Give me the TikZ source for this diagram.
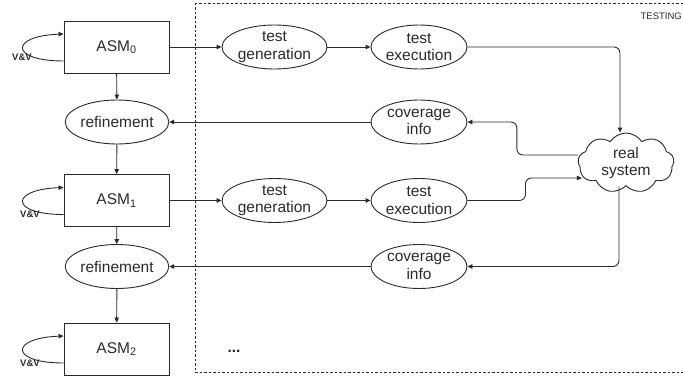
\documentclass[tikz,border=0pt]{standalone}
\usepackage{fontspec}
\setmainfont{Liberation Sans}
\usetikzlibrary{shapes.geometric,shapes.symbols,arrows.meta}
\definecolor{ln}{HTML}{2A2A2A}
\begin{document}
\begin{tikzpicture}[x=1pt,y=-1pt,
  every node/.style={text=ln},
  lbl/.style={font=\fontsize{15.5}{17.5}\selectfont},
  asmbox/.style={draw=ln, line width=0.9pt, minimum width=105pt, minimum height=52pt, inner sep=0pt, lbl},
  ell/.style={draw=ln, line width=0.9pt, ellipse, minimum width=96pt, minimum height=44pt, inner sep=0pt, align=center, lbl},
  arr/.style={draw=ln, line width=0.9pt, -{Triangle[length=5pt,width=4.5pt]}},
  loopv/.style={draw=ln, line width=0.9pt, -{Triangle[length=5pt,width=4.5pt]}},
  small/.style={font=\fontsize{9.5}{11}\selectfont, inner sep=0pt},
  orth/.style={arr, rounded corners=6pt}
]
\useasboundingbox (0,0) rectangle (683,377);
\begin{scope}
\clip (0,0) rectangle (683,377);
\draw[ln, line width=0.8pt, dash pattern=on 2.5pt off 2pt] (195,3) rectangle (700,372);
\end{scope}
\node[small, anchor=east] (testing) at (682,16) {TESTING};

\node[asmbox] (a0) at (116.5,47) {ASM\textsubscript{0}};
\node[ell] (r1) at (117,122) {refinement};
\node[asmbox] (a1) at (116.5,200.5) {ASM\textsubscript{1}};
\node[ell] (r2) at (117,266.5) {refinement};
\node[asmbox] (a2) at (116.5,349) {ASM\textsubscript{2}};

\node[ell, minimum width=105pt] (g1) at (274.5,47) {test\\generation};
\node[ell] (e1) at (419,47) {test\\execution};
\node[ell] (c1) at (419,122) {coverage\\info};
\node[ell, minimum width=105pt] (g2) at (274.5,200.5) {test\\generation};
\node[ell] (e2) at (419,200.5) {test\\execution};
\node[ell] (c2) at (419,266.5) {coverage\\info};

\node[draw=ln, line width=0.9pt, cloud, cloud puffs=9, cloud puff arc=115, aspect=1.6,
      minimum width=96pt, minimum height=60pt, inner sep=0pt, align=center, lbl] (rs) at (626,163) {real\\system};

\node[lbl] (dots) at (234,351) {\textbf{...}};

% self loops
\foreach \n in {a0,a1,a2}{
  \draw[loopv] ([yshift=-14pt]\n.west) .. controls +(-54,0) and +(-54,2) .. ([yshift=13pt]\n.west);
}
\node[small, font=\fontsize{9.5}{11}\selectfont\bfseries] (vv0) at (22,57) {V\&V};
\node[small, font=\fontsize{9.5}{11}\selectfont\bfseries] (vv1) at (30,214) {V\&V};
\node[small, font=\fontsize{9.5}{11}\selectfont\bfseries] (vv2) at (30,363) {V\&V};

% vertical chain
\draw[arr] (a0) -- (r1);
\draw[arr] (r1) -- (a1);
\draw[arr] (a1) -- (r2);
\draw[arr] (r2) -- (a2);

% testing flow
\draw[arr] (a0) -- (g1);
\draw[arr] (g1) -- (e1);
\draw[orth] (e1.east) -| ([xshift=-6pt]rs.north);
\draw[orth] ([yshift=8pt]rs.west) -- ++(-61,0) |- (c1.east);
\draw[arr] (c1) -- (r1);

\draw[arr] (a1) -- (g2);
\draw[arr] (g2) -- (e2);
\draw[orth] (e2.east) -- ++(58,0) |- ([xshift=4pt,yshift=-15pt]rs.west);
\draw[orth] ([xshift=-7pt]rs.south) |- (c2.east);
\draw[arr] (c2) -- (r2);
\end{tikzpicture}
\end{document}
